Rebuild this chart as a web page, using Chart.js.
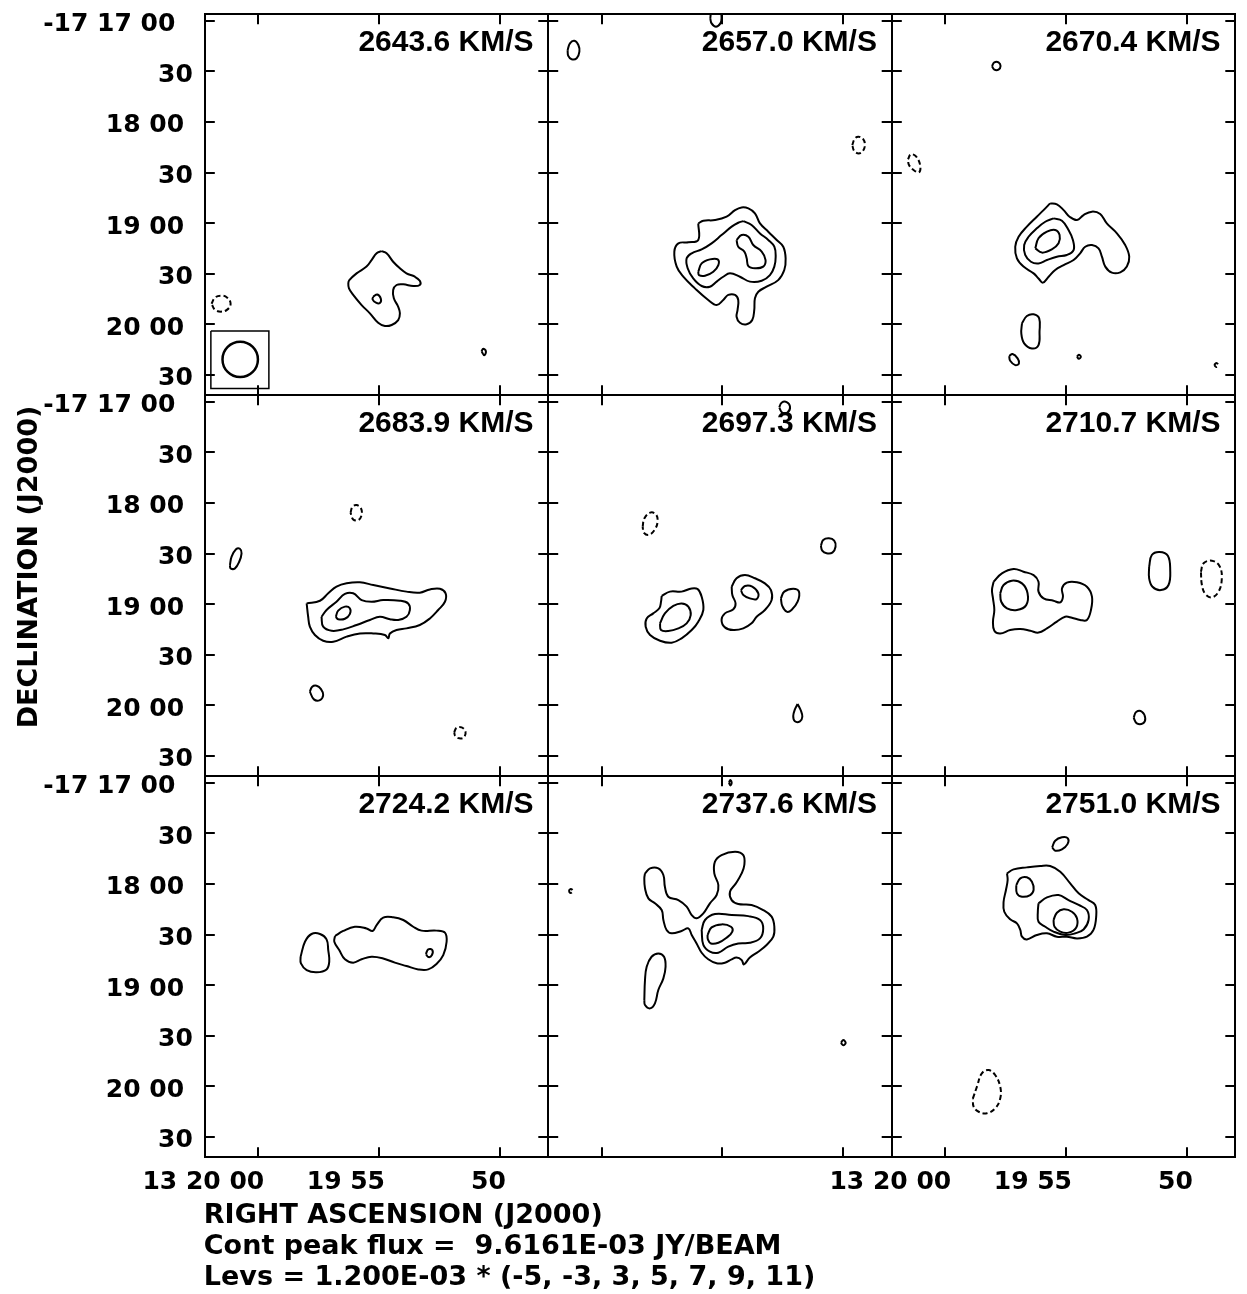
<!DOCTYPE html>
<html>
<head>
<meta charset="utf-8">
<script src="https://cdn.jsdelivr.net/npm/chart.js@4.4.1/dist/chart.umd.min.js"></script>
<style>
  html, body { margin: 0; padding: 0; background: #fff; }
  #wrap { position: relative; width: 1247px; height: 1294px; }
  #wrap canvas { position: absolute; left: 0; top: 0; }
</style>
</head>
<body>
<div id="wrap"></div>
<script>
// channel velocities, km/s
const velocities = ['2643.6', '2657.0', '2670.4', '2683.9', '2697.3', '2710.7', '2724.2', '2737.6', '2751.0'];

// offsets from 13 20 00, -17 17 00 in arcsec (x = east, y = north)
const raRange = [-172.0, 31.7];
const decRange = [-222.1, 3.8];
const raTickSeconds = [0, -5, -10];
const raTickLabels = ['13 20 00', '19 55', '50'];
const raLabelledColumns = [true, false, true];
const decTicks = [0, -30, -60, -90, -120, -150, -180, -210];
const decTickLabels = ['-17 17 00', '30', '18 00', '30', '19 00', '30', '20 00', '30'];
const arcsecPerSecond = 15 * Math.cos((17 + 17 / 60) * Math.PI / 180);

// beam (arcsec) and its box in channel 1
const beamCentre = [10.7, -200.8];
const beamSize = 21;
const beamBox = [28.1, -184.0, -6.3, -184.0, -6.3, -218.0, 28.1, -218.0];

const axisTitleX = 'RIGHT ASCENSION (J2000)';
const axisTitleY = 'DECLINATION (J2000)';
const footNotes = ['Cont peak flux =  9.6161E-03 JY/BEAM', 'Levs = 1.200E-03 * (-5, -3, 3, 5, 7, 9, 11)'];

// contours: [level, [x, y, x, y, ...]], negative levels are dashed
const chan2643 = [
  [3, [-73.1,-136.6, -76.1,-137.9, -80.0,-142.9, -84.0,-146.8, -87.9,-149.8, -92.9,-151.8, -95.8,-154.2, -95.8,-156.7, -91.9,-157.3, -86.0,-156.3, -82.0,-156.7, -80.0,-159.7, -80.4,-164.6, -83.0,-169.6, -84.0,-173.5, -83.0,-177.5, -79.1,-180.4, -75.1,-181.0, -71.1,-179.1, -66.2,-173.5, -61.3,-168.6, -56.3,-162.6, -53.8,-158.7, -53.4,-155.7, -54.0,-153.8, -58.3,-149.8, -64.2,-145.8, -67.2,-141.9, -70.2,-137.9]],
  [5, [-68.2,-163.6, -70.6,-162.3, -72.7,-164.8, -72.1,-167.4, -69.8,-167.2, -67.8,-165.2]],
  [-3, [27.7,-167.8, 25.7,-164.2, 22.1,-163.0, 18.4,-164.2, 16.4,-167.8, 18.4,-171.3, 22.1,-172.5, 25.7,-171.3]],
  [3, [-132.4,-196.0, -133.4,-194.5, -135.0,-196.0, -134.0,-198.4]]
];
const chan2657 = [
  [3, [-57.3,-120.2, -57.3,-130.0, -51.4,-131.4, -45.5,-132.0, -43.1,-136.9, -44.5,-145.8, -48.4,-151.8, -55.3,-158.7, -63.2,-165.6, -68.2,-168.6, -72.1,-165.6, -75.1,-162.6, -79.1,-162.6, -81.0,-165.6, -80.6,-171.5, -80.0,-175.5, -82.0,-179.1, -86.0,-180.0, -89.3,-177.5, -90.5,-171.5, -90.9,-164.6, -92.9,-160.7, -97.8,-157.7, -104.7,-153.8, -108.3,-147.8, -109.1,-140.9, -107.7,-134.0, -103.8,-130.0, -98.8,-125.1, -93.9,-120.2, -90.9,-114.2, -87.0,-111.3, -83.0,-110.7, -79.1,-112.3, -74.1,-116.2, -67.2,-118.2, -60.3,-118.6]],
  [5, [-84.0,-118.8, -88.9,-121.1, -93.9,-126.1, -98.8,-130.0, -102.4,-134.0, -103.2,-139.9, -102.4,-145.8, -99.8,-150.8, -94.9,-154.2, -87.9,-154.7, -82.0,-151.8, -76.1,-149.8, -72.1,-151.8, -68.2,-154.7, -64.2,-157.7, -59.3,-157.3, -54.3,-152.8, -51.0,-146.8, -50.4,-140.9, -53.4,-137.9, -59.3,-135.6, -65.2,-132.0, -71.1,-127.1, -77.1,-122.1, -81.0,-119.8]],
  [7, [-57.3,-148.8, -59.3,-143.9, -64.2,-141.5, -68.8,-141.5, -69.2,-144.9, -66.2,-148.8, -61.3,-151.2, -57.7,-150.8]],
  [7, [-80.0,-130.0, -83.0,-127.1, -87.0,-128.1, -89.9,-133.0, -94.9,-136.9, -97.2,-141.9, -95.8,-145.8, -90.9,-146.8, -87.0,-145.5, -86.0,-140.9, -84.6,-136.9, -81.0,-134.0]],
  [3, [20.2,-17.4, 18.8,-13.4, 16.2,-11.9, 13.8,-14.4, 13.2,-18.4, 14.8,-22.3, 17.8,-22.9, 19.8,-20.9]],
  [-3, [-148.6,-73.7, -150.2,-69.8, -152.4,-68.8, -155.1,-70.2, -156.1,-73.7, -154.9,-77.3, -152.4,-78.7, -149.8,-77.3]],
  [3, [-64.4,1.4, -65.2,-1.6, -67.8,-3.6, -70.4,-1.6, -71.1,1.4, -70.4,5.3, -67.8,6.3, -65.2,5.3]]
];
const chan2670 = [
  [3, [-62.2,-108.3, -66.2,-108.9, -70.2,-112.3, -73.7,-116.2, -78.1,-118.2, -82.0,-115.2, -87.0,-113.2, -91.9,-114.6, -95.8,-120.2, -101.8,-126.1, -106.7,-133.0, -109.1,-139.9, -107.7,-145.8, -103.8,-149.2, -98.8,-149.4, -94.9,-145.8, -92.9,-139.9, -90.9,-135.0, -87.0,-133.0, -83.0,-134.0, -80.0,-137.9, -76.1,-141.9, -70.2,-144.9, -65.2,-147.8, -61.3,-151.8, -57.9,-155.3, -55.3,-152.8, -52.4,-149.8, -46.4,-145.8, -42.5,-140.9, -41.5,-134.0, -43.5,-128.1, -48.4,-122.1, -54.3,-116.2, -58.3,-112.3]],
  [5, [-64.2,-117.2, -69.2,-118.6, -73.1,-124.1, -75.7,-130.0, -76.1,-136.0, -72.1,-138.9, -66.2,-139.9, -60.3,-141.9, -55.3,-143.9, -50.8,-142.9, -47.4,-138.9, -46.8,-133.0, -49.4,-128.1, -54.3,-123.1, -59.3,-119.2]],
  [7, [-53.4,-135.0, -55.3,-129.0, -60.3,-125.1, -65.2,-124.1, -67.8,-127.1, -67.2,-132.0, -63.2,-135.6, -57.3,-137.5]],
  [3, [-27.7,-26.9, -29.1,-24.7, -31.6,-24.7, -32.8,-26.9, -31.6,-29.0, -29.1,-29.0]],
  [-3, [22.1,-82.2, 20.4,-79.2, 17.2,-80.6, 14.8,-86.2, 15.6,-89.9, 18.8,-88.5, 21.5,-85.6]],
  [3, [-45.5,-179.4, -48.4,-175.1, -52.4,-174.1, -55.7,-176.5, -55.9,-184.4, -55.3,-192.3, -51.4,-194.3, -46.8,-191.3, -45.1,-185.4]],
  [3, [-37.9,-198.8, -39.9,-197.6, -42.9,-200.2, -43.7,-203.2, -41.5,-204.2, -38.5,-201.6]],
  [3, [-78.1,-199.2, -79.2,-198.0, -80.4,-199.2, -79.2,-200.4]],
  [-3, [-159.5,-204.2, -160.7,-203.0, -161.9,-204.2, -160.7,-205.3]]
];
const chan2683 = [
  [3, [-28.7,-119.6, -36.6,-118.0, -41.5,-113.6, -46.4,-109.7, -52.4,-107.7, -60.3,-107.1, -68.2,-108.7, -78.1,-110.7, -87.9,-112.6, -95.8,-113.2, -101.8,-111.3, -107.7,-110.9, -111.1,-113.6, -110.7,-118.6, -106.7,-123.5, -101.8,-128.5, -95.8,-132.4, -87.9,-134.4, -82.0,-135.4, -78.1,-137.4, -77.1,-140.3, -75.1,-138.3, -68.2,-137.4, -60.3,-137.4, -52.4,-139.3, -44.5,-142.3, -38.5,-141.7, -33.6,-138.3, -30.6,-133.4, -29.6,-127.5]],
  [5, [-37.5,-127.5, -40.5,-123.5, -46.4,-118.6, -51.4,-114.0, -56.3,-113.6, -61.3,-117.6, -67.2,-118.6, -74.1,-117.6, -84.0,-118.0, -88.9,-119.6, -89.9,-123.5, -87.9,-127.5, -83.0,-129.4, -78.1,-129.0, -72.1,-127.5, -66.2,-129.4, -58.3,-132.4, -50.4,-135.0, -43.5,-135.8, -38.5,-133.4]],
  [7, [-46.0,-127.5, -47.4,-123.9, -51.4,-121.5, -54.3,-122.5, -54.3,-125.9, -51.4,-128.7, -47.4,-129.0]],
  [-3, [-54.7,-65.8, -55.9,-62.3, -58.3,-61.3, -60.9,-63.2, -61.3,-67.2, -59.3,-70.2, -56.3,-69.8]],
  [3, [16.8,-96.8, 15.8,-91.9, 13.2,-87.5, 10.9,-87.2, 9.9,-89.9, 11.3,-94.9, 13.8,-98.8, 16.4,-98.8]],
  [3, [-30.6,-171.9, -32.0,-169.0, -34.6,-168.4, -37.2,-170.4, -38.5,-173.9, -36.6,-176.9, -33.0,-176.5]],
  [-3, [-116.2,-196.0, -117.6,-193.3, -120.6,-193.1, -122.9,-195.7, -121.9,-199.0, -119.2,-199.6, -116.8,-198.2]]
];
const chan2697 = [
  [3, [-35.6,-115.2, -40.5,-112.6, -47.4,-112.6, -53.4,-110.7, -56.9,-111.1, -59.3,-115.6, -60.3,-123.5, -57.3,-130.4, -53.4,-135.4, -47.4,-140.3, -41.5,-142.9, -34.6,-141.7, -28.7,-138.3, -26.1,-133.4, -26.7,-128.5, -30.6,-125.5, -34.2,-122.5, -35.2,-118.6]],
  [5, [-34.6,-131.4, -37.5,-125.5, -42.5,-121.1, -47.4,-119.6, -51.4,-121.5, -52.8,-126.5, -50.4,-131.4, -45.5,-134.4, -39.5,-136.0, -35.2,-135.4]],
  [3, [-77.1,-109.7, -80.0,-104.7, -85.0,-102.8, -90.9,-104.7, -96.8,-107.7, -100.4,-111.7, -100.8,-117.6, -96.8,-123.5, -91.9,-127.5, -88.9,-131.4, -84.0,-134.4, -78.1,-135.4, -73.1,-133.8, -71.1,-129.4, -73.1,-125.5, -78.1,-123.1, -79.4,-119.6, -77.5,-114.6]],
  [5, [-82.6,-111.7, -85.0,-109.3, -89.3,-109.7, -92.9,-113.6, -91.9,-117.0, -87.9,-116.6, -84.0,-114.6]],
  [3, [-106.3,-116.6, -108.3,-112.6, -113.6,-110.9, -117.0,-112.6, -116.2,-118.6, -112.6,-123.5, -109.7,-124.5, -107.1,-121.1]],
  [3, [-130.0,-85.4, -131.4,-82.0, -134.8,-81.0, -137.9,-82.4, -138.7,-86.0, -136.8,-89.5, -133.4,-89.9, -130.8,-88.3]],
  [-3, [-24.3,-74.1, -25.3,-69.2, -28.7,-65.8, -32.0,-66.6, -33.2,-70.6, -31.6,-75.7, -28.1,-78.9, -25.1,-77.7]],
  [3, [-116.2,-179.2, -118.0,-182.8, -119.0,-186.8, -117.6,-189.5, -114.6,-189.5, -113.6,-186.4, -114.6,-182.4]],
  [3, [-105.3,-3.4, -106.7,-0.6, -109.7,-0.2, -111.7,-3.0, -110.3,-6.3, -107.1,-6.5]]
];
const chan2710 = [
  [3, [-28.7,-106.7, -33.6,-101.8, -40.5,-99.2, -46.4,-100.8, -52.4,-102.8, -55.3,-106.7, -55.3,-112.6, -58.3,-116.6, -64.2,-118.0, -68.2,-119.0, -69.8,-115.6, -69.2,-110.7, -72.1,-107.3, -78.1,-107.1, -84.0,-109.7, -87.0,-115.6, -86.4,-123.5, -84.0,-129.4, -80.0,-129.4, -75.1,-128.1, -71.1,-127.5, -66.2,-130.4, -60.3,-134.4, -55.3,-136.9, -50.4,-135.8, -44.5,-134.8, -38.5,-135.4, -32.6,-137.4, -29.1,-135.8, -28.3,-130.4, -29.1,-123.5, -28.3,-116.6, -27.7,-111.7]],
  [5, [-32.6,-113.6, -34.6,-108.7, -39.5,-106.1, -45.5,-107.7, -48.8,-113.6, -48.0,-120.6, -42.5,-123.5, -36.6,-122.5, -33.2,-118.6]],
  [3, [-120.9,-97.8, -122.5,-90.9, -127.1,-89.1, -132.0,-91.3, -133.4,-99.8, -132.4,-108.7, -127.9,-111.7, -122.9,-109.7, -120.9,-104.7]],
  [-3, [-151.6,-100.8, -153.2,-95.8, -158.1,-94.3, -162.6,-97.4, -164.0,-104.7, -162.1,-112.6, -158.1,-116.0, -154.2,-114.0, -152.2,-108.7]],
  [3, [-111.7,-187.4, -113.2,-184.0, -116.6,-183.8, -118.6,-187.7, -117.2,-190.7, -113.6,-190.7]]
];
const chan2724 = [
  [3, [-25.1,-103.2, -27.7,-94.3, -31.6,-89.7, -36.6,-89.7, -40.5,-92.9, -41.5,-99.2, -42.1,-106.1, -40.5,-110.7, -34.6,-112.4, -28.7,-111.1, -25.3,-107.1]],
  [3, [-45.5,-90.9, -50.4,-87.9, -57.3,-85.4, -64.2,-86.4, -67.8,-87.9, -70.2,-84.4, -74.1,-80.0, -80.0,-79.8, -86.0,-81.4, -91.9,-85.4, -96.8,-87.7, -105.7,-87.7, -110.7,-88.9, -111.7,-94.3, -109.7,-102.2, -105.7,-107.5, -100.8,-110.7, -94.9,-110.7, -87.9,-108.7, -81.0,-106.7, -74.1,-104.2, -67.2,-103.2, -61.3,-104.7, -56.3,-106.7, -51.4,-104.7, -48.0,-99.2, -45.1,-94.3]],
  [5, [-99.4,-101.6, -100.8,-98.8, -103.2,-99.2, -103.0,-102.2, -101.0,-103.4]]
];
const chan2737 = [
  [3, [-25.7,-53.8, -28.7,-50.8, -33.6,-50.8, -36.6,-54.7, -37.5,-61.7, -39.5,-67.6, -45.5,-69.6, -50.4,-73.5, -53.4,-78.5, -56.3,-80.4, -60.3,-77.5, -64.2,-71.5, -68.2,-66.6, -69.2,-60.7, -66.8,-53.8, -67.2,-46.8, -71.1,-42.9, -79.1,-40.9, -84.0,-42.9, -84.6,-48.8, -83.0,-53.8, -79.6,-59.7, -76.1,-64.6, -77.1,-69.6, -81.0,-71.9, -88.9,-72.5, -95.8,-75.5, -100.8,-79.4, -102.4,-85.4, -101.8,-91.3, -97.8,-96.2, -92.9,-100.2, -87.9,-103.6, -84.4,-107.7, -83.0,-105.1, -80.0,-103.7, -77.1,-104.7, -73.1,-106.7, -68.2,-107.1, -63.2,-104.7, -59.3,-100.8, -56.3,-95.3, -53.4,-90.3, -51.4,-86.4, -47.4,-87.9, -41.5,-89.3, -38.5,-87.3, -36.6,-81.4, -35.6,-75.5, -31.6,-71.5, -27.7,-68.6, -25.7,-62.6, -25.3,-56.7]],
  [5, [-59.3,-87.3, -61.3,-81.4, -67.2,-77.9, -77.1,-78.5, -87.0,-79.1, -93.9,-81.4, -95.8,-86.4, -93.9,-92.3, -87.9,-94.9, -81.0,-95.3, -75.1,-97.2, -69.2,-100.8, -64.2,-100.2, -60.3,-96.2]],
  [7, [-62.8,-90.3, -65.2,-85.8, -71.1,-84.0, -76.7,-85.4, -77.5,-88.3, -74.1,-91.9, -69.2,-94.9, -64.8,-95.3, -63.0,-92.9]],
  [3, [-25.3,-128.9, -25.7,-117.0, -26.7,-109.1, -29.6,-103.2, -33.6,-101.2, -37.0,-103.2, -37.9,-109.1, -36.6,-116.0, -33.6,-122.9, -31.6,-130.8, -28.7,-133.8, -25.7,-131.8]],
  [-3, [19.6,-64.2, 18.4,-63.0, 17.0,-64.2, 18.4,-65.4]],
  [3, [-141.9,-154.2, -143.3,-152.6, -144.7,-154.2, -143.3,-155.7]],
  [3, [-75.5,0.0, -76.3,1.6, -77.1,0.0, -76.3,-1.6]]
];
const chan2751 = [
  [3, [-36.6,-53.8, -40.5,-51.4, -48.4,-50.2, -56.3,-49.4, -62.2,-49.4, -68.2,-52.8, -74.1,-59.7, -79.1,-65.6, -85.0,-69.6, -88.9,-72.5, -89.5,-79.4, -87.9,-87.3, -84.0,-91.3, -78.1,-92.3, -72.1,-91.3, -66.2,-91.3, -60.3,-89.3, -54.3,-90.3, -48.4,-92.9, -45.5,-91.3, -44.5,-87.3, -42.5,-83.4, -38.5,-81.0, -35.0,-76.5, -34.6,-70.6, -36.0,-63.6, -37.0,-57.7]],
  [5, [-42.1,-60.7, -44.5,-56.7, -48.4,-56.1, -51.4,-58.7, -52.4,-63.6, -50.4,-66.6, -45.5,-67.6, -42.5,-65.6]],
  [5, [-55.3,-71.5, -60.3,-68.0, -67.2,-66.6, -73.1,-69.6, -79.1,-72.5, -84.0,-75.5, -85.0,-81.4, -82.0,-87.0, -77.1,-89.3, -71.1,-90.3, -64.2,-88.3, -59.3,-85.4, -55.3,-82.4, -54.9,-76.5]],
  [7, [-64.2,-81.4, -66.2,-77.1, -70.2,-75.1, -75.1,-76.5, -78.1,-80.4, -77.7,-85.8, -73.1,-88.9, -68.2,-88.3, -64.8,-85.4]],
  [3, [-63.4,-38.3, -65.2,-34.4, -69.2,-32.4, -72.7,-33.0, -72.5,-36.4, -69.2,-39.5, -65.2,-40.3]],
  [-3, [-16.4,-187.2, -18.8,-180.2, -21.7,-172.3, -25.7,-170.4, -29.6,-173.3, -32.6,-180.2, -32.6,-187.2, -29.6,-193.1, -24.7,-196.0, -19.8,-195.1, -16.8,-192.1]]
];
const channels = [chan2643, chan2657, chan2670, chan2683, chan2697, chan2710, chan2724, chan2737, chan2751];

// page layout
const PAGE_W = 1247, PAGE_H = 1294;
const panelLeft = [204.8, 548.2, 891.8];
const panelTop = [14.3, 395.3, 776.3];
const panelW = 343.5, panelH = 381;
const labelBand = { y: 200, x: 60 };
const tickFont = { family: '"DejaVu Sans", sans-serif', weight: 'bold', size: 25 };

function toPoints(flat) {
  const pts = [];
  for (let i = 0; i < flat.length; i += 2) pts.push({ x: flat[i], y: flat[i + 1] });
  pts.push(pts[0]);
  return pts;
}

function contourDataset(c) {
  return {
    data: toPoints(c[1]),
    showLine: true,
    borderColor: '#000',
    borderWidth: 2,
    borderDash: c[0] < 0 ? [5, 3] : [],
    pointRadius: 0,
    tension: 0.4,
    fill: false
  };
}

function makeAxis(kind, position, showLabels, labels, size) {
  const isX = kind === 'x';
  return {
    type: 'linear',
    axis: kind,
    position: position,
    min: isX ? raRange[0] : decRange[0],
    max: isX ? raRange[1] : decRange[1],
    reverse: isX,
    afterBuildTicks: s => {
      s.ticks = isX ? raTickSeconds.map(v => ({ value: v * arcsecPerSecond }))
                    : decTicks.map(v => ({ value: v }));
    },
    afterFit: s => {
      if (isX) s.height = size; else s.width = size;
      s.paddingLeft = s.paddingRight = s.paddingTop = s.paddingBottom = 0;
    },
    grid: { drawOnChartArea: false, drawTicks: true, tickLength: -10, color: '#000', tickColor: '#000', lineWidth: 2, tickWidth: 2 },
    border: { display: true, color: '#000', width: 2 },
    ticks: isX ? {
      display: showLabels, color: '#000', font: tickFont, align: 'end', labelOffset: 6, padding: 20,
      maxRotation: 0, minRotation: 0, autoSkip: false,
      callback: (v, i) => labels[i]
    } : {
      display: showLabels, color: '#000', font: tickFont, padding: 22, labelOffset: 4, autoSkip: false,
      callback: (v, i) => labels[i] + ' '.repeat(Math.floor((labels[i].length - 2) / 3))
    }
  };
}

const panelText = {
  id: 'panelText',
  afterDraw(chart, args, opts) {
    const { ctx, chartArea } = chart;
    ctx.save();
    ctx.fillStyle = '#000';
    ctx.font = 'bold 30px "Liberation Sans", Arial, sans-serif';
    ctx.textAlign = 'right';
    ctx.textBaseline = 'alphabetic';
    ctx.fillText(opts.text + ' KM/S', chartArea.right - 14.8, chartArea.top + 36.4);
    if (opts.notes) {
      ctx.font = 'bold 27px "DejaVu Sans", sans-serif';
      ctx.textAlign = 'left';
      [axisTitleX].concat(footNotes).forEach((t, k) => ctx.fillText(t, chartArea.left - 1, chartArea.bottom + 66 + k * 31));
      ctx.translate(37, 567);
      ctx.rotate(-Math.PI / 2);
      ctx.textAlign = 'center';
      ctx.fillText(axisTitleY, 0, 0);
    }
    ctx.restore();
  }
};

const wrap = document.getElementById('wrap');
channels.forEach((contours, i) => {
  const col = i % 3, row = Math.floor(i / 3);
  const cv = document.createElement('canvas');
  cv.width = PAGE_W;
  cv.height = PAGE_H;
  wrap.appendChild(cv);

  const datasets = contours.map(contourDataset);
  if (i === 0) {
    datasets.push({
      data: toPoints(beamBox), showLine: true, borderColor: '#000', borderWidth: 1.5,
      pointRadius: 0, tension: 0, fill: false
    });
    datasets.push({
      data: [{ x: beamCentre[0], y: beamCentre[1] }], showLine: false,
      pointRadius: ctx => {
        const s = ctx.chart.scales.y;
        return Math.abs(s.getPixelForValue(0) - s.getPixelForValue(beamSize / 2));
      },
      pointBorderWidth: 2.5, pointBorderColor: '#000', pointBackgroundColor: 'rgba(0,0,0,0)'
    });
  }

  const showY = col === 0;
  const showX = row === 2 && raLabelledColumns[col];
  const yBand = showY ? labelBand.y : 0;
  const xBand = showX ? labelBand.x : 0;

  new Chart(cv, {
    type: 'scatter',
    data: { datasets },
    options: {
      responsive: false,
      devicePixelRatio: 1,
      animation: false,
      events: [],
      layout: {
        padding: {
          left: panelLeft[col] - yBand,
          top: panelTop[row],
          right: PAGE_W - panelLeft[col] - panelW,
          bottom: PAGE_H - panelTop[row] - panelH - xBand
        }
      },
      elements: { line: { capBezierPoints: false } },
      scales: {
        x: makeAxis('x', 'bottom', showX, raTickLabels, xBand),
        x2: makeAxis('x', 'top', false, raTickLabels, 0),
        y: makeAxis('y', 'left', showY, decTickLabels, yBand),
        y2: makeAxis('y', 'right', false, decTickLabels, 0)
      },
      plugins: {
        legend: { display: false },
        tooltip: { enabled: false },
        panelText: { text: velocities[i], notes: i === 6 }
      }
    },
    plugins: [panelText]
  });
});
</script>
</body>
</html>
